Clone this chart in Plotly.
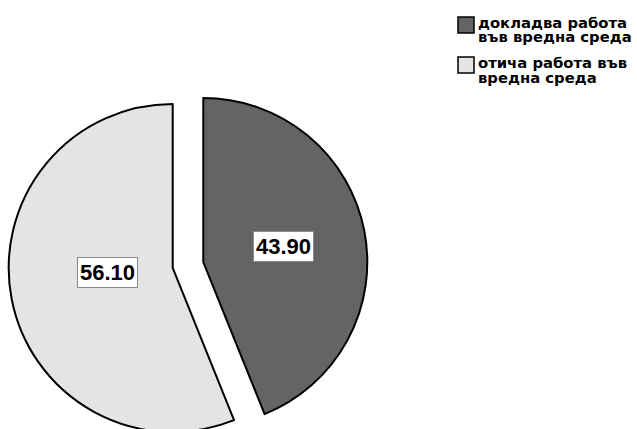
import math
import plotly.graph_objects as go

# Share of respondents (percent)
labels = ["докладва работа във вредна среда", "отича работа във вредна среда"]
legend_lines = [["докладва работа", "във вредна среда"],
                ["отича работа във", "вредна среда"]]
values = [43.90, 56.10]
colors = ["#646464", "#e4e4e4"]

# Canvas and pie geometry (pixels)
W, H = 637, 450
cx, cy, r = 188.0, 265.0, 164.0
pull = 0.095
half = r * (1 + pull)
label_radius = [0.50, 0.40]     # label distance from the slice apex, fraction of r
label_turn = [0.0, 7.0]         # extra clockwise turn of each label, degrees


def fx(x):
    return x / W


def fy(y):
    return 1 - y / H


fig = go.Figure(go.Pie(
    labels=labels,
    values=values,
    sort=False,
    direction="clockwise",
    rotation=0,
    pull=[pull] * len(values),
    marker=dict(colors=colors, line=dict(color="black", width=2)),
    textinfo="none",
    hoverinfo="label+value",
    showlegend=False,
    domain=dict(x=[fx(cx - half), fx(cx + half)],
                y=[fy(cy + half), fy(cy - half)]),
))

annotations = []
shapes = []

# Boxed value labels placed along each slice's mid-angle
total = sum(values)
start = 0.0
for v, k, turn in zip(values, label_radius, label_turn):
    mid_slice = (start + v / 2) / total * 2 * math.pi
    start += v
    pdx, pdy = math.sin(mid_slice), -math.cos(mid_slice)
    ax, ay = cx + pull * r * pdx, cy + pull * r * pdy
    ang = mid_slice + math.radians(turn)
    d = k * r
    annotations.append(dict(
        x=fx(ax + d * math.sin(ang)), y=fy(ay - d * math.cos(ang)),
        xref="paper", yref="paper",
        text=f"<b>{v:.2f}</b>", showarrow=False,
        font=dict(family="Liberation Sans, Arial", size=22, color="black"),
        bgcolor="white", bordercolor="#8a8a8a", borderwidth=1, borderpad=2,
        xanchor="center", yanchor="middle",
    ))

# Legend: swatches and two-line captions
sw_x, sw_size, sw_top = 458, 16, 17
item_gap, line_gap, text_x, text_top = 40, 14.5, 476, 22.5
for i, (col, lines) in enumerate(zip(colors, legend_lines)):
    y0 = sw_top + i * item_gap
    shapes.append(dict(
        type="rect", xref="paper", yref="paper",
        x0=fx(sw_x), x1=fx(sw_x + sw_size), y0=fy(y0 + sw_size), y1=fy(y0),
        fillcolor=col, line=dict(color="black", width=1.5),
    ))
    for j, line in enumerate(lines):
        annotations.append(dict(
            x=fx(text_x), y=fy(text_top + i * item_gap + j * line_gap),
            xref="paper", yref="paper", text=f"<b>{line}</b>", showarrow=False,
            font=dict(family="DejaVu Sans", size=14.8, color="black"),
            xanchor="left", yanchor="middle",
        ))

fig.update_layout(
    width=W, height=H,
    margin=dict(l=0, r=0, t=0, b=0),
    paper_bgcolor="white", plot_bgcolor="white",
    annotations=annotations, shapes=shapes,
    showlegend=False,
)

fig.write_html(
    "out.html",
    post_script="document.documentElement.style.overflow='hidden';"
                "document.body.style.overflow='hidden';document.body.style.margin='0';",
)
